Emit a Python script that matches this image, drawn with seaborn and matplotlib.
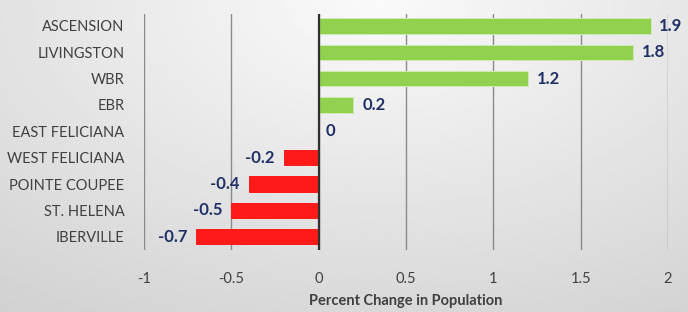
import numpy as np
import pandas as pd
import matplotlib
matplotlib.use("Agg")
import matplotlib.pyplot as plt
import seaborn as sns

# ===== Data =====
parishes = ["ASCENSION", "LIVINGSTON", "WBR", "EBR", "EAST FELICIANA",
            "WEST FELICIANA", "POINTE COUPEE", "ST. HELENA", "IBERVILLE"]
pct_change = [1.9, 1.8, 1.2, 0.2, 0, -0.2, -0.4, -0.5, -0.7]
x_ticks = [-1, -0.5, 0, 0.5, 1, 1.5, 2]
x_title = "Percent Change in Population"

GREEN = "#92d050"
RED = "#ff1a1a"
NAVY = "#1f3067"

df = pd.DataFrame({"parish": parishes, "change": pct_change})
df["sign"] = np.where(df["change"] >= 0, "pos", "neg")

sns.set_style("white")
plt.rcParams["font.family"] = ["Lato", "DejaVu Sans"]

fig = plt.figure(figsize=(6.88, 3.12), dpi=100)

# ===== Gradient background =====
bg = fig.add_axes([0, 0, 1, 1], zorder=-1)
yy, xx = np.mgrid[0:1:200j, 0:1:400j]
dist = np.sqrt(((xx - 0.55) / 1.0) ** 2 + ((yy - 0.0) / 1.3) ** 2)
bg.imshow(0.98 - 0.17 * dist, cmap="gray", vmin=0, vmax=1, aspect="auto",
          extent=[0, 1, 1, 0])
bg.axis("off")

ax = fig.add_axes([0.209, 0.199, 0.762, 0.756])
ax.patch.set_alpha(0)

sns.barplot(data=df, x="change", y="parish", hue="sign", orient="h",
            palette={"pos": GREEN, "neg": RED}, width=0.58, legend=False,
            dodge=False, saturation=1, ax=ax, edgecolor="#cfeab5",
            linewidth=0.7)
for p in ax.patches:
    if p.get_width() < 0:
        p.set_edgecolor(RED)

ax.set_xlim(-1, 2)
ax.set_ylim(8.5, -0.45)
ax.set_xticks(x_ticks)
ax.set_xticklabels([f"{t:g}" for t in x_ticks])
ax.grid(axis="x", color="#8a8a8a", linewidth=1.0)
ax.set_axisbelow(True)
ax.axvline(0, color="#303030", linewidth=1.6, zorder=3)
for s in ax.spines.values():
    s.set_visible(False)

ax.tick_params(axis="both", length=0, labelsize=10.5, colors="#404040")
ax.tick_params(axis="y", pad=14)
ax.tick_params(axis="x", pad=16)
ax.set_ylabel("")
ax.set_xlabel(x_title, fontsize=10.5, fontweight="bold", color="#404040",
              labelpad=6)

# ===== Value labels =====
for i, v in enumerate(pct_change):
    if v > 0:
        ax.text(v + 0.05, i, f"{v:g}", ha="left", va="center",
                fontsize=12, fontweight="bold", color=NAVY)
    elif v < 0:
        ax.text(v - 0.05, i, f"{v:g}", ha="right", va="center",
                fontsize=12, fontweight="bold", color=NAVY)
    else:
        ax.text(0.07, i, "0", ha="center", va="center",
                fontsize=12, fontweight="bold", color=NAVY)

fig.savefig("out.png", dpi=100)
